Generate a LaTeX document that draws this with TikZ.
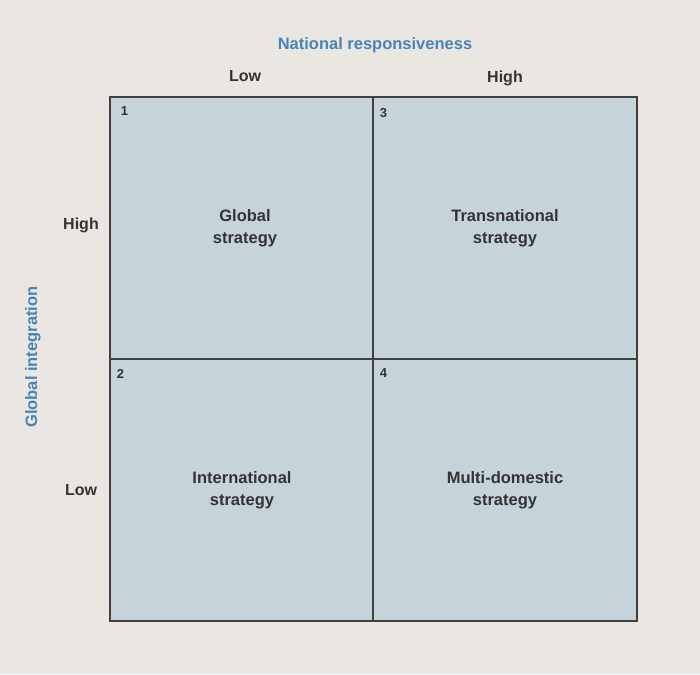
\documentclass[tikz,border=0pt]{standalone}
\usepackage{fontspec}
\setmainfont{Liberation Sans}
\begin{document}
\begin{tikzpicture}[x=1pt,y=-1pt,
  cell/.style={draw=black!75,line width=1.3pt,fill=cellfill,minimum width=264pt,minimum height=262pt,inner sep=0pt},
  lbl/.style={font=\fontsize{16}{19}\selectfont\bfseries,text=black!80},
  ctext/.style={font=\fontsize{16.5}{22}\selectfont\bfseries,text=black!80,align=center},
  num/.style={font=\fontsize{13}{15}\selectfont\bfseries,text=black!80},
  axis/.style={font=\fontsize{16.5}{19}\selectfont\bfseries,text=axisblue}]
\definecolor{bg}{RGB}{234,230,226}
\definecolor{cellfill}{RGB}{198,211,217}
\definecolor{axisblue}{RGB}{72,132,184}
\fill[bg] (0,0) rectangle (700,674);
\useasboundingbox (0,0) rectangle (700,674);
\node[cell] (c1) at (242,228) {};
\node[cell] (c3) at (505,228) {};
\node[cell] (c2) at (242,490) {};
\node[cell] (c4) at (505,490) {};
\node[num,anchor=north west] (n1) at ([xshift=8pt,yshift=-7pt]c1.north west) {1};
\node[num,anchor=north west] (n3) at ([xshift=4pt,yshift=-9pt]c3.north west) {3};
\node[num,anchor=north west] (n2) at ([xshift=4pt,yshift=-8pt]c2.north west) {2};
\node[num,anchor=north west] (n4) at ([xshift=4pt,yshift=-7pt]c4.north west) {4};
\node[ctext] (t1) at (245,228) {Global\\strategy};
\node[ctext] (t3) at (505,228) {Transnational\\strategy};
\node[ctext] (t2) at (242,490) {International\\strategy};
\node[ctext] (t4) at (505,490) {Multi-domestic\\strategy};
\node[axis] (nr) at (375,45) {National responsiveness};
\node[lbl] (lowx) at (245,76) {Low};
\node[lbl] (highx) at (505,78) {High};
\node[lbl] (highy) at (81,225) {High};
\node[lbl] (lowy) at (81,490) {Low};
\node[axis,rotate=90] (gi) at (33,357) {Global integration};
\end{tikzpicture}
\end{document}
